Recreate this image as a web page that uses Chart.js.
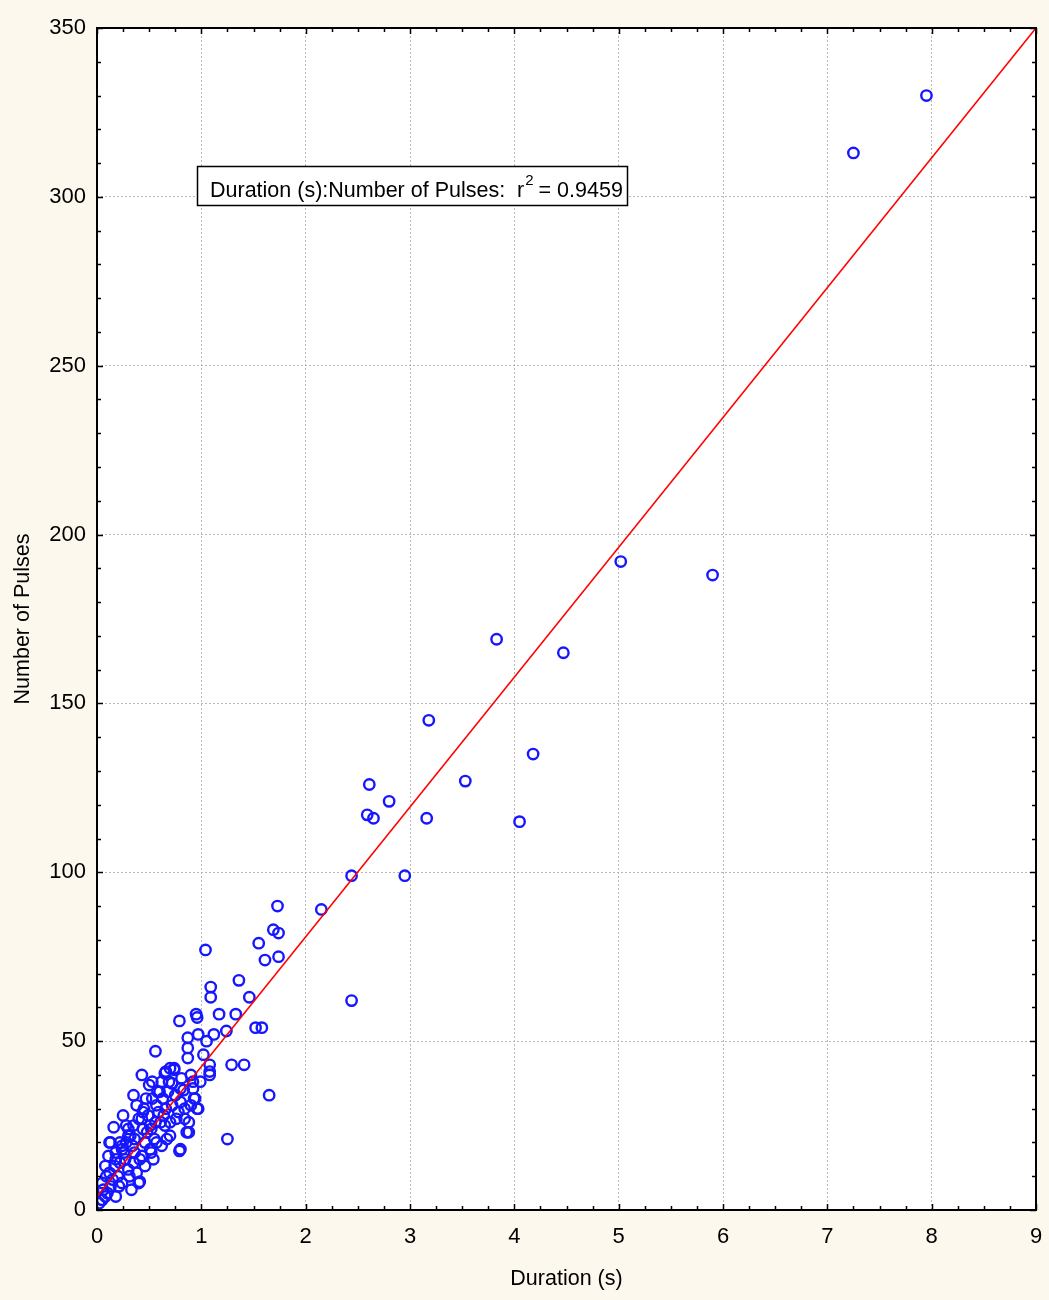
<!DOCTYPE html>
<html><head><meta charset="utf-8">
<script src="https://cdn.jsdelivr.net/npm/chart.js@4"></script>
<style>html,body{margin:0;padding:0;background:#fdf8ee;} canvas{display:block;}</style>
</head><body>
<canvas id="c" width="1049" height="1300"></canvas>
<script>
// Scatter data: Duration (s) vs Number of Pulses
const durationS = [
  7.95,7.25,5.02,5.90,3.83,4.47,3.18,4.18,3.53,2.61,2.80,2.59,2.65,3.16,4.05,2.44,2.95,2.15,2.44,
  1.73,1.69,1.74,1.55,1.04,1.61,1.74,1.36,1.09,1.09,1.46,1.17,1.33,0.79,0.95,0.96,1.52,1.58,
  0.87,0.97,1.12,1.24,1.05,0.87,0.56,0.87,1.02,1.08,1.08,1.08,1.29,1.41,1.65,1.25,
  0.90,0.99,0.70,0.74,0.65,0.43,0.50,0.69,0.72,0.53,0.35,0.80,0.92,0.83,0.93,0.94,0.96,0.97,
  0.88,0.88,0.79,0.70,0.70,0.61,0.57,0.44,0.43,0.52,0.57,0.52,0.41,0.32,0.24,0.16,0.12,0.35,
  0.36,0.35,0.48,0.45,0.59,0.80,0.84,0.30,0.44,0.51,0.65,0.76,0.86,0.13,0.24,0.36,0.51,0.67,
  0.80,0.41,0.54,0.11,0.08,0.17,0.30,0.40,0.24,0.13,0.08,0.05,0.10,0.20,0.15,0.27,0.60,0.63,
  0.55,0.28,0.22,0.05,0.09,0.18,0.38,0.46,0.62,0.33,0.18,0.25,0.38,0.66,0.75,
  0.66,0.74,0.62,0.58,0.47,0.40,0.30,0.22,0.18,0.26,0.34,0.46,0.56,0.64,0.72,0.78,0.84,0.90,
  0.31,0.43,0.12,0.21,0.06,0.28,0.49,0.68,0.81,0.53,0.92,0.02
];
const pulses = [
  330,313,192,188,169,165,145,135,127,126,121,117,116,116,115,99,99,89,62,
  90,83,82,79,77,74,75,68,66,63,63,58,58,56,58,57,54,54,
  51,52,52,53,50,48,47,45,46,43,41,40,43,43,34,21,
  40,38,42,42,40.5,40,37,38,37.5,33,34,36,36,35.5,33,33,30,30,
  26,23,17.5,26,22,26,31,29,27,24,20,17,8.4,22,19,24.5,20,14,
  17,25,23,30,29,32,30,24,24,25,25,27,23,20,18,21,18,21,
  18,15,15,16,13,13,12,8,8,7,4,3,5,10,9,15,35,33,
  21,20,14,8,10,17,11,13,19,6,4,28,31,30,34,
  41,41.5,38,35,33,27,22,20,15,17,19,20,26,28,31,29,27,31,
  10,16,11,7,6,25,28,35,39,38,38,2
];
// Fitted regression line endpoints
const fitX = [0, 9];
const fitY = [4, 350];
const fitLabel = 'Duration (s):Number of Pulses:  r';
const fitR2 = '0.9459';

const FONT = '"Liberation Sans", Arial, sans-serif';

const framePlugin = {
  id: 'frame',
  beforeDraw(chart) {
    const {ctx, chartArea: a} = chart;
    ctx.save();
    ctx.fillStyle = '#ffffff';
    ctx.fillRect(a.left, a.top, a.right - a.left, a.bottom - a.top);
    ctx.restore();
  },
  afterDraw(chart) {
    const {ctx, chartArea: a, scales} = chart;
    const xs = scales.x, ys = scales.y;
    ctx.save();
    ctx.strokeStyle = '#000';
    ctx.lineWidth = 1.5;
    ctx.beginPath();
    for (let v = 0; v <= 9.0001; v += 0.25) {
      const px = Math.round(xs.getPixelForValue(v)) + 0.5;
      const major = Math.abs(v - Math.round(v)) < 1e-6;
      const len = major ? 6 : 4;
      ctx.moveTo(px, a.bottom); ctx.lineTo(px, a.bottom - len);
      ctx.moveTo(px, a.top); ctx.lineTo(px, a.top + len);
    }
    for (let v = 0; v <= 350.001; v += 10) {
      const py = Math.round(ys.getPixelForValue(v)) + 0.5;
      const major = v % 50 === 0;
      const len = major ? 6 : 4;
      ctx.moveTo(a.left, py); ctx.lineTo(a.left + len, py);
      ctx.moveTo(a.right, py); ctx.lineTo(a.right - len, py);
    }
    ctx.stroke();
    ctx.lineWidth = 2;
    ctx.strokeRect(a.left, a.top, a.right - a.left, a.bottom - a.top);

    // annotation box
    const bx = a.left + 100, by = a.top + 138, bw = 430, bh = 39;
    ctx.fillStyle = '#fff';
    ctx.fillRect(bx, by, bw, bh);
    ctx.lineWidth = 1.5;
    ctx.strokeRect(bx + 0.5, by + 0.5, bw, bh);
    ctx.fillStyle = '#000';
    ctx.textBaseline = 'alphabetic';
    ctx.font = '21.5px ' + FONT;
    let tx = bx + 13, ty = by + 31;
    ctx.fillText(fitLabel, tx, ty);
    tx += ctx.measureText(fitLabel).width;
    ctx.font = '15px ' + FONT;
    ctx.fillText('2', tx + 1, ty - 12);
    tx += ctx.measureText('2').width + 6;
    ctx.font = '21.5px ' + FONT;
    ctx.fillText('= ' + fitR2, tx, ty);
    ctx.restore();
  }
};

new Chart(document.getElementById('c'), {
  type: 'scatter',
  data: {
    datasets: [
      {
        type: 'line',
        data: fitX.map((x, i) => ({x, y: fitY[i]})),
        borderColor: '#ff0000',
        borderWidth: 1.6,
        pointRadius: 0,
        fill: false,
        order: 0
      },
      {
        data: durationS.map((x, i) => ({x, y: pulses[i]})),
        pointStyle: 'circle',
        pointRadius: 5.2,
        borderWidth: 2.4,
        borderColor: '#1616ff',
        backgroundColor: 'rgba(0,0,0,0)',
        order: 1
      }
    ]
  },
  options: {
    responsive: false,
    animation: false,
    layout: {padding: {top: 28, right: 13, left: 0, bottom: 0}},
    plugins: {legend: {display: false}, tooltip: {enabled: false}},
    scales: {
      x: {
        type: 'linear', min: 0, max: 9,
        afterFit(s) { s.height = 90; s.paddingLeft = 0; s.paddingRight = 0; },
        ticks: {stepSize: 1, color: '#000', padding: 14, font: {family: FONT, size: 22}},
        grid: {color: '#b8b8b8', lineWidth: 1, drawTicks: false},
        border: {display: false, dash: [2, 2]},
        title: {display: true, text: 'Duration (s)', color: '#000', font: {family: FONT, size: 21.5}, padding: {top: 0, bottom: 8}}
      },
      y: {
        type: 'linear', min: 0, max: 350,
        afterFit(s) { s.width = 97; s.paddingTop = 0; s.paddingBottom = 0; },
        ticks: {stepSize: 50, color: '#000', padding: 11, font: {family: FONT, size: 22}},
        grid: {color: '#b8b8b8', lineWidth: 1, drawTicks: false},
        border: {display: false, dash: [2, 2]},
        title: {display: true, text: 'Number of Pulses', color: '#000', font: {family: FONT, size: 21.5}, padding: {top: 10, bottom: 0}}
      }
    }
  },
  plugins: [framePlugin]
});
</script>
</body></html>
